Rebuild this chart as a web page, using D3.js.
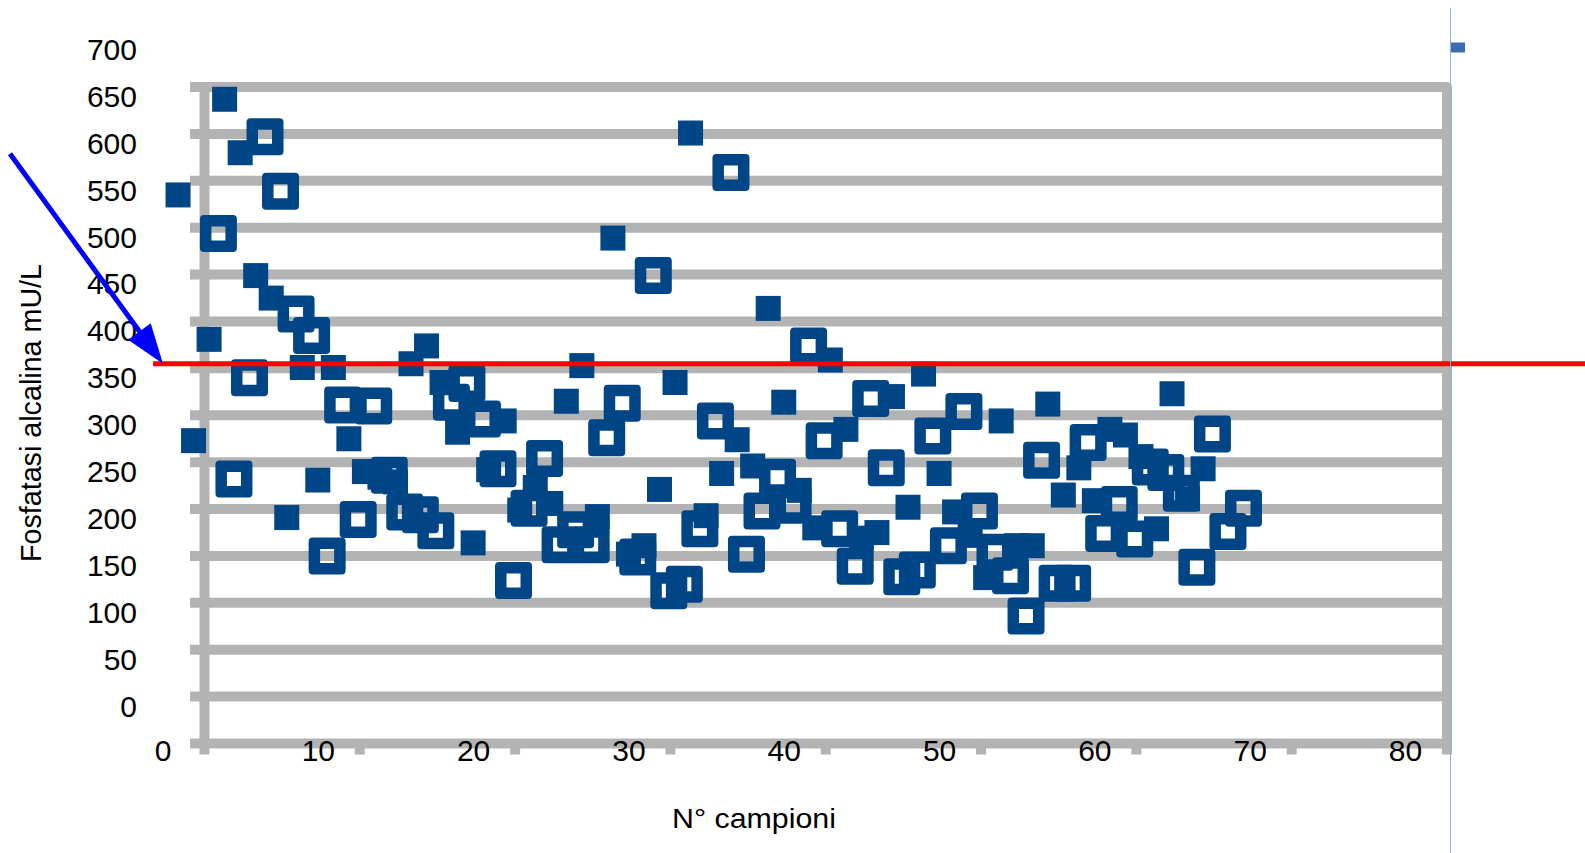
<!DOCTYPE html>
<html>
<head>
<meta charset="utf-8">
<script src="https://cdn.jsdelivr.net/npm/d3@7"></script>
<style>
  html, body { margin: 0; padding: 0; background: #ffffff; }
  svg { display: block; }
  text { font-family: "Liberation Sans", Arial, sans-serif; fill: #000; }
</style>
</head>
<body>
<svg id="chart" width="1585" height="853"></svg>
<script>
// ---------------- data ----------------
const xTickValues = [0, 10, 20, 30, 40, 50, 60, 70, 80];
const yTickValues = [0, 50, 100, 150, 200, 250, 300, 350, 400, 450, 500, 550, 600, 650, 700];

// series 1 (filled squares): samples 1..67
const filledStart = 1;
const filledValues = [546, 284, 392, 648, 591, 460, 436, 202, 362, 242,
                      362, 286, 251, 245, 240, 366, 385, 346, 293, 175,
                      253, 305, 210, 234, 217, 326, 364, 203, 500, 163,
                      172, 232, 346, 612, 204, 249, 285, 257, 425, 325,
                      231, 191, 370, 296, 180, 186, 331, 213, 355, 249,
                      208, 183, 138, 305, 172, 172, 323, 226, 255, 220,
                      296, 290, 267, 190, 334, 222, 254];

// series 2 (hollow squares): plotted at 3.6 .. 69.6
const hollowStart = 3.6;
const hollowValues = [505, 243, 351, 608, 550, 419, 396, 161, 322, 200,
                      321, 247, 208, 205, 188, 325, 345, 307, 254, 135,
                      212, 265, 173, 189, 173, 287, 324, 160, 460, 124,
                      131, 190, 305, 570, 163, 209, 245, 215, 385, 284,
                      190, 150, 329, 255, 139, 146, 289, 172, 315, 209,
                      165, 140, 97, 263, 132, 132, 282, 185, 216, 179,
                      256, 250, 228, 149, 291, 187, 212];

// reference threshold (red line) and arrow annotation, in data units
const thresholdValue = 366;
const thresholdXRange = [-0.61, 92];
const arrowFrom = [-9.82, 590];
const arrowTo = [0.03, 366];

const xTitle = "N° campioni";
const yTitle = "Fosfatasi alcalina mU/L";

// ---------------- layout ----------------
const svg = d3.select("#chart");
const x = d3.scaleLinear().domain([0, 80]).range([162.5, 1405]);
const y = d3.scaleLinear().domain([0, 700]).range([707, 50.5]);

const gridDX = 42, gridDY = 36.5;   // offset of the back wall grid
const gridColor = "#b3b3b3";
const gridW = 10;
const markColor = "#004586";

const gx0 = x(0) + gridDX;
const gx1 = x(80) + gridDX;
const gyTop = y(700) + gridDY;
const gyBot = y(0) + gridDY;
const stubEnd = gyBot + 11;

const grid = svg.append("g").attr("class", "grid");
grid.selectAll("line.h").data(yTickValues.filter(v => v !== 700)).enter()
  .append("line").attr("class", "h")
  .attr("x1", gx0 - 14.5).attr("x2", gx1)
  .attr("y1", v => y(v) + gridDY).attr("y2", v => y(v) + gridDY)
  .attr("stroke", gridColor).attr("stroke-width", gridW);
grid.selectAll("line.s").data(xTickValues.filter(v => v > 0 && v < 80)).enter()
  .append("line").attr("class", "s")
  .attr("x1", v => x(v) + gridDX).attr("x2", v => x(v) + gridDX)
  .attr("y1", gyBot).attr("y2", stubEnd)
  .attr("stroke", gridColor).attr("stroke-width", gridW);
grid.append("line")
  .attr("x1", gx0).attr("x2", gx0).attr("y1", gyTop - gridW / 2).attr("y2", stubEnd)
  .attr("stroke", gridColor).attr("stroke-width", gridW);
grid.append("path")
  .attr("d", `M${gx0 - 14.5},${gyTop} H${gx1} V${stubEnd}`)
  .attr("fill", "none").attr("stroke", gridColor).attr("stroke-width", gridW)
  .attr("stroke-linejoin", "round");

// ---------------- axes labels ----------------
const yAxis = svg.append("g").attr("transform", "translate(137,0)")
  .call(d3.axisLeft(y).tickValues(yTickValues).tickSize(0).tickPadding(0).tickFormat(d3.format("d")));
yAxis.select(".domain").remove();
yAxis.selectAll("text").attr("font-size", 30).attr("font-family", "Liberation Sans, Arial, sans-serif")
  .attr("fill", "#000").attr("dy", "0.3em");

const xAxis = svg.append("g").attr("transform", "translate(0,740)")
  .call(d3.axisBottom(x).tickValues(xTickValues).tickSize(0).tickPadding(0).tickFormat(d3.format("d")));
xAxis.select(".domain").remove();
xAxis.selectAll("text").attr("font-size", 30).attr("font-family", "Liberation Sans, Arial, sans-serif")
  .attr("fill", "#000");

svg.append("text")
  .attr("x", 754).attr("y", 828)
  .attr("text-anchor", "middle").attr("font-size", 28)
  .attr("textLength", 164).attr("lengthAdjust", "spacingAndGlyphs")
  .text(xTitle);

svg.append("text")
  .attr("transform", "translate(41,413) rotate(-90)")
  .attr("text-anchor", "middle").attr("font-size", 30)
  .attr("textLength", 298).attr("lengthAdjust", "spacingAndGlyphs")
  .text(yTitle);

// ---------------- marks ----------------
const filledSize = 25;
svg.append("g").selectAll("rect").data(filledValues).enter()
  .append("rect")
  .attr("x", (d, i) => x(filledStart + i) - filledSize / 2)
  .attr("y", d => y(d) - filledSize / 2)
  .attr("width", filledSize).attr("height", filledSize)
  .attr("fill", markColor);

const outer = 37, hole = 14, r = 4;
function hollowPath(cx, cy) {
  const o = outer / 2, h = hole / 2;
  const p = d3.path();
  p.moveTo(cx - o + r, cy - o);
  p.lineTo(cx + o - r, cy - o); p.arcTo(cx + o, cy - o, cx + o, cy - o + r, r);
  p.lineTo(cx + o, cy + o - r); p.arcTo(cx + o, cy + o, cx + o - r, cy + o, r);
  p.lineTo(cx - o + r, cy + o); p.arcTo(cx - o, cy + o, cx - o, cy + o - r, r);
  p.lineTo(cx - o, cy - o + r); p.arcTo(cx - o, cy - o, cx - o + r, cy - o, r);
  p.closePath();
  p.moveTo(cx - h, cy - h); p.lineTo(cx - h, cy + h); p.lineTo(cx + h, cy + h); p.lineTo(cx + h, cy - h);
  p.closePath();
  return p.toString();
}
svg.append("g").selectAll("path").data(hollowValues).enter()
  .append("path")
  .attr("d", (d, i) => hollowPath(x(hollowStart + i), y(d)))
  .attr("fill", markColor).attr("fill-rule", "evenodd");

// ---------------- annotations ----------------
svg.append("line")
  .attr("x1", x(thresholdXRange[0])).attr("x2", x(thresholdXRange[1]))
  .attr("y1", y(thresholdValue)).attr("y2", y(thresholdValue))
  .attr("stroke", "#ff0000").attr("stroke-width", 5);

{
  const x1 = x(arrowFrom[0]), y1 = y(arrowFrom[1]);
  const x2 = x(arrowTo[0]), y2 = y(arrowTo[1]);
  const len = Math.hypot(x2 - x1, y2 - y1);
  const ux = (x2 - x1) / len, uy = (y2 - y1) / len;
  const headLen = 40, headHalf = 14;
  const bx = x2 - ux * headLen, by = y2 - uy * headLen;
  svg.append("line")
    .attr("x1", x1).attr("y1", y1).attr("x2", bx + ux * 2).attr("y2", by + uy * 2)
    .attr("stroke", "#0000ff").attr("stroke-width", 5);
  svg.append("path")
    .attr("d", `M${x2},${y2} L${bx - uy * headHalf},${by + ux * headHalf} L${bx + uy * headHalf},${by - ux * headHalf} Z`)
    .attr("fill", "#0000ff");
}

// thin frame line and small legend swatch at the right
svg.append("line")
  .attr("x1", 1450.5).attr("x2", 1450.5).attr("y1", 8).attr("y2", 853)
  .attr("stroke", "#8fb2dc").attr("stroke-width", 1);
svg.append("rect")
  .attr("x", 1451).attr("y", 42.5).attr("width", 14).attr("height", 10)
  .attr("fill", "#3a6cb0");
</script>
</body>
</html>
